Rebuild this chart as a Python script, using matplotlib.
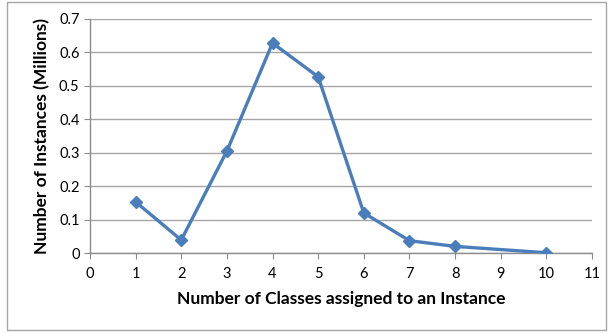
import matplotlib
matplotlib.use('Agg')
import matplotlib.pyplot as plt
from matplotlib.patches import Rectangle

# data
classes = [1, 2, 3, 4, 5, 6, 7, 8, 10]
instances = [0.153, 0.039, 0.305, 0.628, 0.527, 0.12, 0.037, 0.02, 0.001]
x_ticks = list(range(0, 12))
y_ticks = [0, 0.1, 0.2, 0.3, 0.4, 0.5, 0.6, 0.7]

plt.rcParams['font.family'] = ['Lato', 'DejaVu Sans']

fig = plt.figure(figsize=(6.1, 3.33), dpi=100)
ax = fig.add_axes([0.1475, 0.240, 0.823, 0.703])

# outer chart border
fig.patches.append(Rectangle((0.011, 0.008), 0.982, 0.985, transform=fig.transFigure,
                             fill=False, edgecolor='#a6a6a6', linewidth=1.0))

ax.plot(classes, instances, color='#4a7ebb', linewidth=2.4, marker='D',
        markersize=6.5, markerfacecolor='#4a7ebb', markeredgecolor='#4a7ebb',
        zorder=3)

ax.set_xlim(0, 11)
ax.set_ylim(0, 0.7)
ax.set_xticks(x_ticks)
ax.set_yticks(y_ticks)
ax.set_yticklabels(['0' if v == 0 else '%g' % v for v in y_ticks])
ax.grid(axis='y', color='#a6a6a6', linewidth=1.0)
ax.set_axisbelow(True)

for side in ['top', 'right']:
    ax.spines[side].set_visible(False)
for side in ['left', 'bottom']:
    ax.spines[side].set_color('#8c8c8c')
    ax.spines[side].set_linewidth(1.0)

ax.tick_params(axis='both', direction='out', length=4, color='#8c8c8c',
               labelsize=10.5, labelcolor='black')
ax.tick_params(axis='x', pad=6)

ax.set_xlabel('Number of Classes assigned to an Instance', fontsize=12.5,
              fontweight='bold', labelpad=7)
ax.set_ylabel('Number of Instances (Millions)', fontsize=12.5,
              fontweight='bold', labelpad=6)

fig.savefig('out.png', dpi=100)
